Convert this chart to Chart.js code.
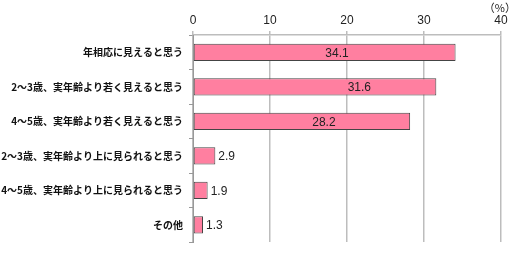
<!DOCTYPE html>
<html><head><meta charset="utf-8">
<script src="https://cdn.jsdelivr.net/npm/chart.js@4"></script>
<style>html,body{margin:0;padding:0;background:#fff}#wrap{width:516px;height:254px;position:relative}</style>
</head><body><div id="wrap"><canvas id="c" width="516" height="254"></canvas></div>
<script>
const categories = ["年相応に見えると思う","2～3歳、実年齢より若く見えると思う","4～5歳、実年齢より若く見えると思う","2～3歳、実年齢より上に見られると思う","4～5歳、実年齢より上に見られると思う","その他"];
const values = [34.1, 31.6, 28.2, 2.9, 1.9, 1.3];
const xTicks = [0, 10, 20, 30, 40];
const unitLabel = "（%）";
// where the inside labels sit, in axis units (null = just outside the bar end)
const labelAt = [18.7, 21.6, 17.0, null, null, null];

const labelPlugin = {
  id: 'valLabels',
  afterDatasetsDraw(chart) {
    const ctx = chart.ctx;
    const meta = chart.getDatasetMeta(0);
    const xs = chart.scales.x;
    ctx.save();
    ctx.font = '12px "Liberation Sans", Arial, sans-serif';
    ctx.fillStyle = '#222';
    ctx.textBaseline = 'middle';
    meta.data.forEach((bar, i) => {
      const txt = values[i].toFixed(1);
      if (labelAt[i] !== null) {
        ctx.textAlign = 'center';
        ctx.fillText(txt, xs.getPixelForValue(labelAt[i]), bar.y + 1);
      } else {
        ctx.textAlign = 'left';
        ctx.fillText(txt, bar.x + 3, bar.y + 1);
      }
    });
    ctx.font = '11px "Noto Sans CJK JP", sans-serif';
    ctx.textAlign = 'right';
    ctx.fillStyle = '#222';
    ctx.fillText(unitLabel, 516, 8);
    ctx.restore();
  }
};

new Chart(document.getElementById('c'), {
  type: 'bar',
  data: {
    labels: categories,
    datasets: [{
      data: values,
      backgroundColor: '#FF7FA0',
      borderColor: '#444',
      borderWidth: 1,
      borderSkipped: false,
      barPercentage: 0.5,
      categoryPercentage: 1.0
    }]
  },
  options: {
    indexAxis: 'y',
    responsive: false,
    animation: false,
    devicePixelRatio: 1,
    layout: { padding: { top: 0, right: 15, bottom: 6, left: 0 } },
    plugins: { legend: { display: false }, tooltip: { enabled: false } },
    scales: {
      x: {
        position: 'top',
        min: 0, max: 40,
        afterBuildTicks(s) { s.ticks = xTicks.map(v => ({ value: v })); },
        afterFit(s) { s.height = 35; },
        grid: { color: '#bdbdbd', lineWidth: 1.5, tickLength: 4, drawTicks: true },
        border: { display: true, color: '#bdbdbd', width: 1.5 },
        ticks: { color: '#222', padding: 3, font: { size: 12, family: '"Liberation Sans", Arial, sans-serif' } }
      },
      y: {
        afterFit(s) { s.width = 193; },
        grid: { display: true, drawOnChartArea: false, offset: true, tickLength: 4, color: '#999' },
        border: { display: true, color: '#999' },
        ticks: { color: '#111', padding: 6, font: { size: 10, weight: 'bold', family: '"Noto Sans CJK JP", sans-serif' } }
      }
    }
  },
  plugins: [labelPlugin]
});
</script></body></html>
